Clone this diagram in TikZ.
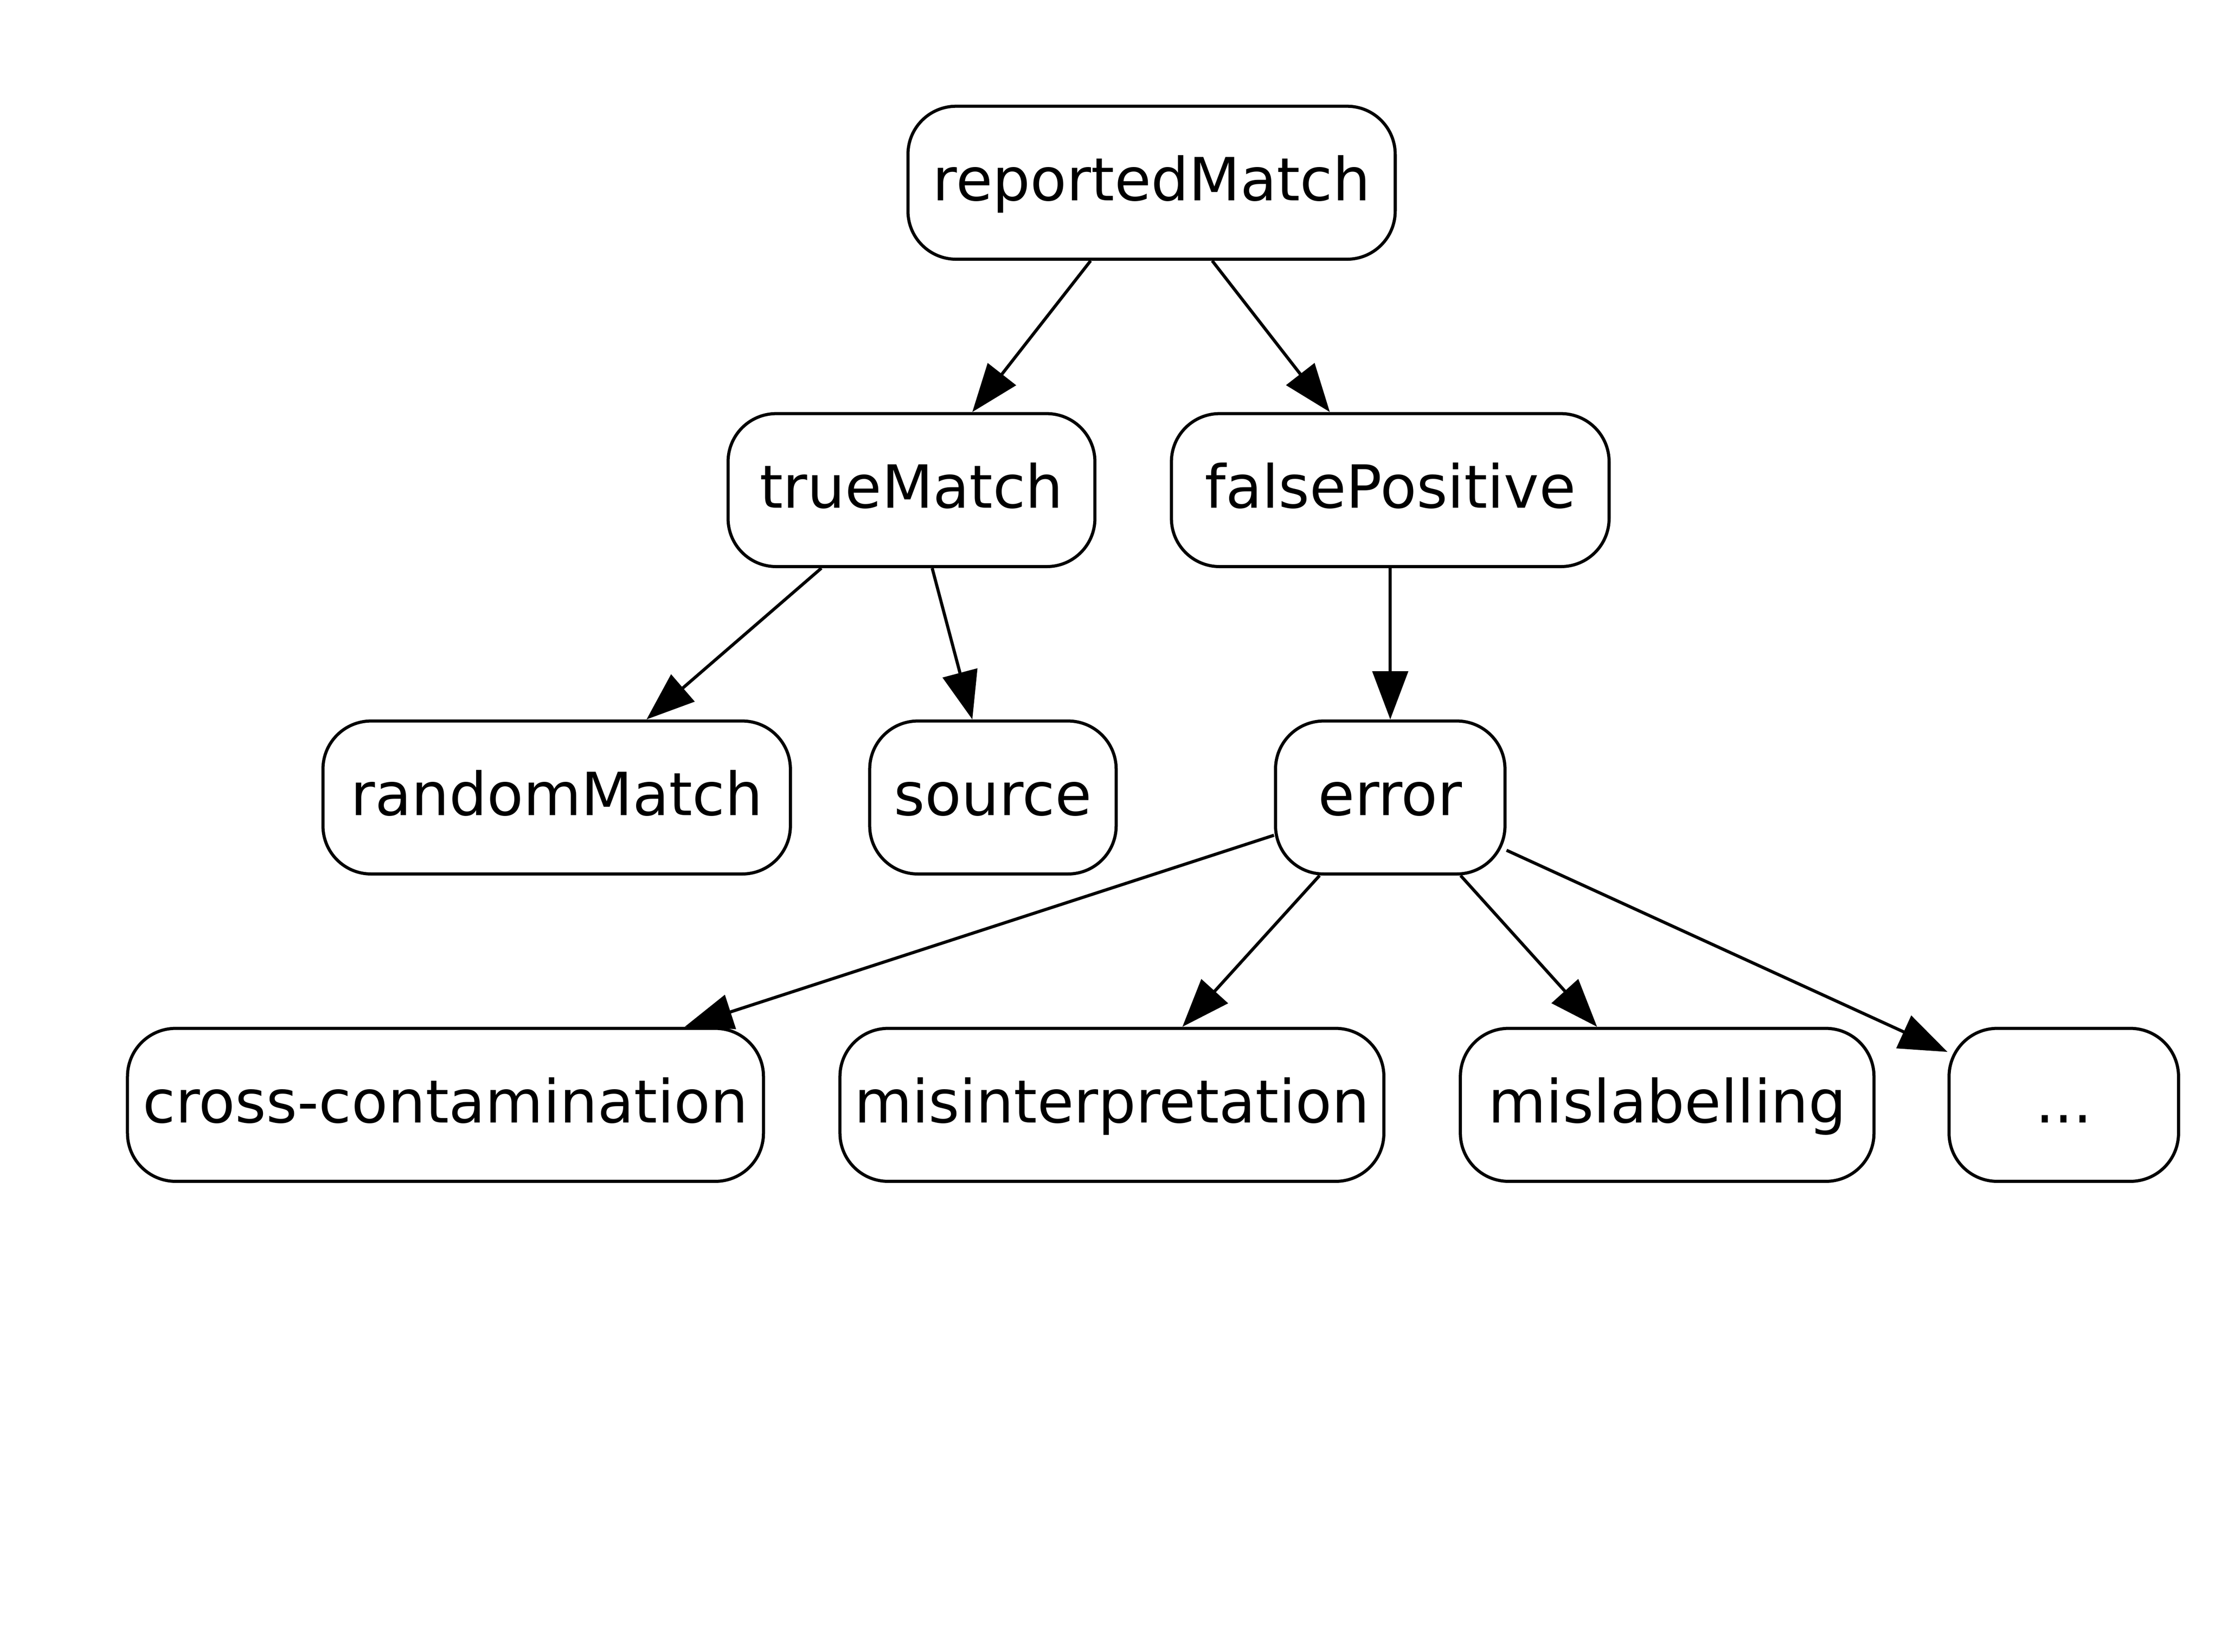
\documentclass[tikz,border=0pt]{standalone}
\usepackage{fontspec}
\setmainfont{DejaVu Sans}
\usetikzlibrary{arrows.meta}
\begin{document}
\begin{tikzpicture}[x=1bp,y=-1bp,
  box/.style={draw=black,line width=2.2bp,rounded corners=34bp,minimum height=108bp,inner sep=0pt,text height=30bp,text depth=5bp,font=\fontsize{42bp}{50bp}\selectfont,fill=white},
  edge/.style={line width=2.2bp,-{Triangle[length=34bp,width=25bp]}}]
\useasboundingbox (0,0) rectangle (1568,1166);
\node[box,minimum width=344bp] (rM) at (813,129) {reportedMatch};
\node[box,minimum width=259bp] (tM) at (643.5,346) {trueMatch};
\node[box,minimum width=309bp] (fP) at (981.5,346) {falsePositive};
\node[box,minimum width=330bp] (rand) at (393,563) {randomMatch};
\node[box,minimum width=174bp] (src) at (701,563) {source};
\node[box,minimum width=162bp] (err) at (981.5,563) {error};
\node[box,minimum width=449bp] (cc) at (314.5,780) {cross-contamination};
\node[box,minimum width=384bp] (mi) at (785,780) {misinterpretation};
\node[box,minimum width=292bp] (ml) at (1177,780) {mislabelling};
\node[box,minimum width=162bp] (dots) at (1457,780) {...};
\draw[edge] (rM) -- (tM);
\draw[edge] (rM) -- (fP);
\draw[edge] (tM) -- (rand);
\draw[edge] (tM) -- (src);
\draw[edge] (fP) -- (err);
\draw[edge] (err) -- (cc);
\draw[edge] (err) -- (mi);
\draw[edge] (err) -- (ml);
\draw[edge] (err) -- (dots);
\end{tikzpicture}
\end{document}
